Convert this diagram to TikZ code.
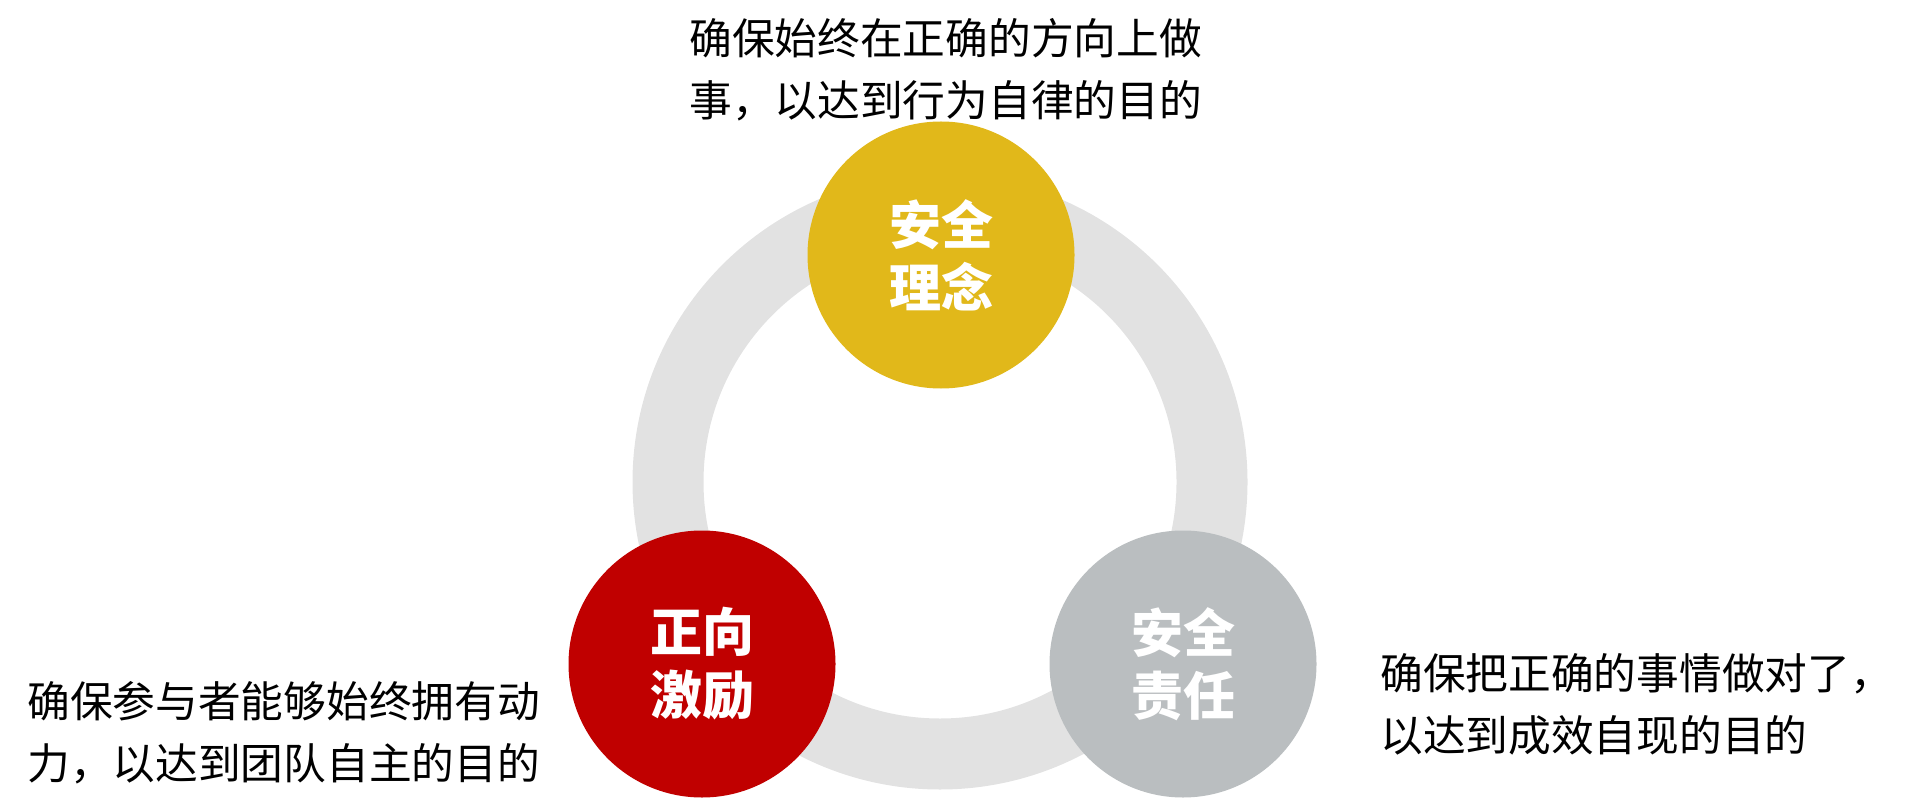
\documentclass[tikz,border=0pt]{standalone}
\usepackage{fontspec}
\newfontfamily\cjk{Noto Sans CJK SC}
\usetikzlibrary{positioning}
\definecolor{ringgray}{HTML}{E2E2E2}
\definecolor{ideaY}{HTML}{E1B81A}
\definecolor{motivR}{HTML}{C00000}
\definecolor{dutyG}{HTML}{BABEC0}

\begin{document}
\begin{tikzpicture}[
  x=0.5pt, y=-0.5pt,
  pillar/.style={circle, minimum size=133.5pt, inner sep=0pt, text=white, align=center, font=\cjk\bfseries\fontsize{26pt}{31.5pt}\selectfont},
  note/.style={anchor=north west, inner sep=0pt, align=left, font=\cjk\fontsize{21.35pt}{31pt}\selectfont},
]
\useasboundingbox (0,0) rectangle (1920,812);
\coordinate (hub) at (940,482);
\draw[ringgray, line width=35.5pt] (hub) circle[radius=272];

\node[pillar, fill=ideaY] (idea) at (941,255) {安全\\理念};
\node[pillar, fill=motivR] (motiv) at (702,664) {正向\\激励};
\node[pillar, fill=dutyG] (duty) at (1183,664) {安全\\责任};

\node[note] (ideanote) at (689,18) {确保始终在正确的方向上做\\事，以达到行为自律的目的};
\node[note] (motivnote) at (27,681) {确保参与者能够始终拥有动\\力，以达到团队自主的目的};
\node[note] (dutynote) at (1380,653) {确保把正确的事情做对了，\\以达到成效自现的目的};
\end{tikzpicture}
\end{document}
